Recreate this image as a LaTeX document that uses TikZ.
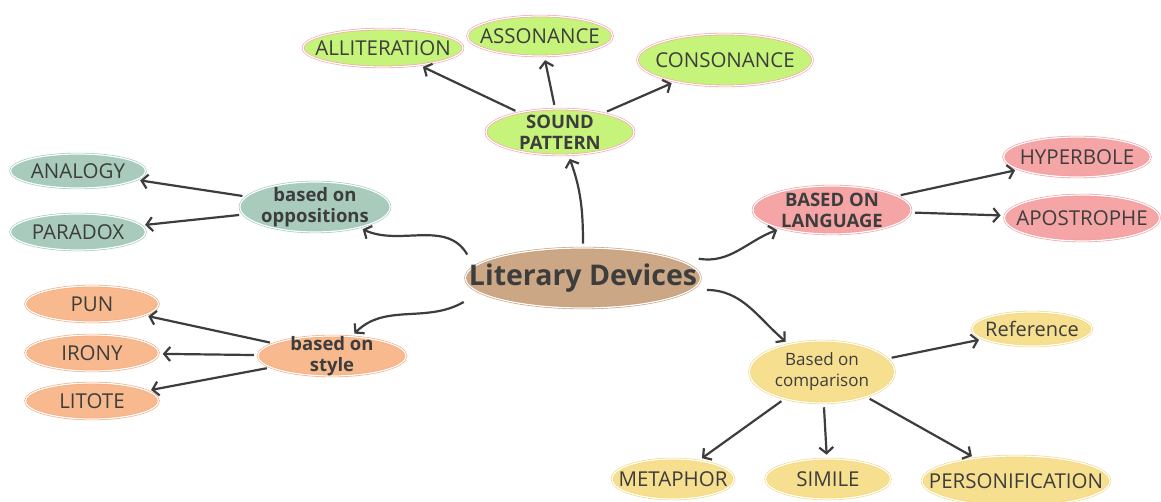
\documentclass[tikz,border=0pt]{standalone}
\usepackage{fontspec}
\setmainfont{Open Sans}
\usetikzlibrary{arrows.meta,shapes.geometric,positioning}

\definecolor{ink}{HTML}{3D3D3D}
\definecolor{soundfill}{HTML}{C6F47A}
\definecolor{soundline}{HTML}{F2A0A6}
\definecolor{oppfill}{HTML}{A9CBBC}
\definecolor{oppline}{HTML}{9CC9BB}
\definecolor{stylefill}{HTML}{F8B98E}
\definecolor{styleline}{HTML}{F4A77A}
\definecolor{langfill}{HTML}{F5A5A5}
\definecolor{langline}{HTML}{F29A9E}
\definecolor{compfill}{HTML}{F6DF8F}
\definecolor{compline}{HTML}{F3D77C}
\definecolor{rootfill}{HTML}{CBA785}
\definecolor{rootline}{HTML}{C49C78}

\begin{document}
\begin{tikzpicture}[x=1pt,y=1pt,>={Straight Barb[length=6pt,width=14pt]},
                    bubble/.style={ellipse,inner xsep=-25pt,inner ysep=-8pt,align=center,text=ink,
                                   double,double distance=1.2pt,line width=0.6pt},
                    soundnode/.style={bubble,fill=soundfill,draw=soundline},
                    oppnode/.style={bubble,fill=oppfill,draw=oppline},
                    stylenode/.style={bubble,fill=stylefill,draw=styleline},
                    langnode/.style={bubble,fill=langfill,draw=langline},
                    compnode/.style={bubble,fill=compfill,draw=compline},
                    leaf/.style={font=\fontsize{20.5}{20.5}\selectfont},
                    head/.style={font=\bfseries\fontsize{18.5}{21}\selectfont},
                    link/.style={every edge/.style={draw=ink,->,line width=2.2pt,
                                                    shorten >=4pt,shorten <=4pt}}]
\fill[white] (0,0) rectangle (1161,502);
\useasboundingbox (0,0) rectangle (1161,502);

% centre
\node[bubble,inner xsep=-35pt,fill=rootfill,draw=rootline,minimum width=235pt,minimum height=60pt,
      font=\bfseries\fontsize{28.5}{28.5}\selectfont] (root) at (583,224) {Literary Devices};

% sound pattern
\node[soundnode,head,minimum width=148pt,minimum height=46pt] (sound) at (560,370) {SOUND\\PATTERN};
\node[soundnode,leaf,minimum width=160pt,minimum height=38pt] (allit) at (383,454) {ALLITERATION};
\node[soundnode,leaf,minimum width=145pt,minimum height=40pt] (asson) at (540,466) {ASSONANCE};
\node[soundnode,leaf,minimum width=175pt,minimum height=52pt] (conso) at (725,442) {CONSONANCE};

% oppositions
\node[oppnode,head,minimum width=150pt,minimum height=50pt] (opp) at (315,295) {based on\\oppositions};
\node[oppnode,leaf,minimum width=135pt,minimum height=34pt] (analogy) at (78,331) {ANALOGY};
\node[oppnode,leaf,minimum width=135pt,minimum height=36pt] (paradox) at (78,270) {PARADOX};

% style
\node[stylenode,head,minimum width=148pt,minimum height=40pt] (style) at (332,146) {based on\\style};
\node[stylenode,leaf,minimum width=133pt,minimum height=36pt] (pun) at (92,198) {PUN};
\node[stylenode,leaf,minimum width=133pt,minimum height=36pt] (irony) at (92,149) {IRONY};
\node[stylenode,leaf,minimum width=133pt,minimum height=36pt] (litote) at (92,101) {LITOTE};

% language
\node[langnode,head,minimum width=158pt,minimum height=48pt] (lang) at (832,292) {BASED ON\\LANGUAGE};
\node[langnode,leaf,minimum width=147pt,minimum height=40pt] (hyper) at (1077,345) {HYPERBOLE};
\node[langnode,leaf,minimum width=155pt,minimum height=46pt] (apos) at (1082,284) {APOSTROPHE};

% comparison
\node[compnode,font=\fontsize{17}{21}\selectfont,minimum width=145pt,minimum height=62pt] (comp) at (822,130) {Based on\\comparison};
\node[compnode,font=\fontsize{20}{20}\selectfont,minimum width=120pt,minimum height=34pt] (refer) at (1032,173) {Reference};
\node[compnode,leaf,minimum width=122pt,minimum height=40pt] (meta) at (673,23) {METAPHOR};
\node[compnode,leaf,minimum width=125pt,minimum height=40pt] (simile) at (828,23) {SIMILE};
\node[compnode,leaf,minimum width=188pt,minimum height=50pt] (person) at (1016,21) {PERSONIFICATION};

\path[link]
  (root.north) edge[out=90,in=-70] (sound)
  ([xshift=4pt,yshift=20pt]root.west) edge[out=120,in=-25] (opp)
  ([xshift=2pt,yshift=-22pt]root.west) edge[out=210,in=45] (style)
  ([xshift=-6pt,yshift=20pt]root.east) edge[out=-10,in=200] (lang)
  ([xshift=2pt,yshift=-12pt]root.east) edge[out=0,in=140] (comp)
  (sound) edge (allit)
          edge (asson)
          edge (conso)
  (opp) edge (analogy)
        edge (paradox)
  (style) edge (pun)
          edge (irony)
          edge (litote)
  (lang) edge (hyper)
         edge (apos)
  (comp) edge (refer)
         edge (meta)
         edge (simile)
         edge (person);
\end{tikzpicture}
\end{document}
